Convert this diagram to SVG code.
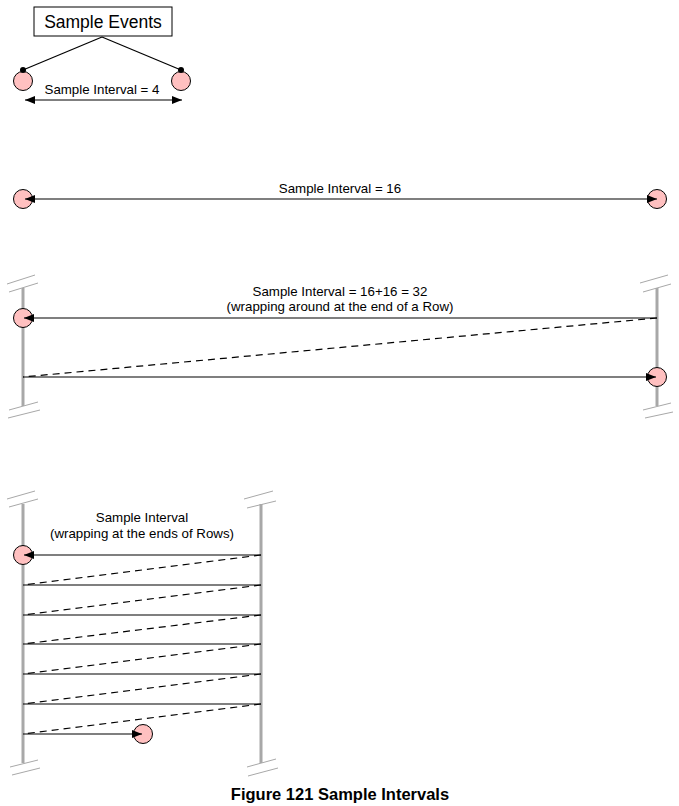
<svg xmlns="http://www.w3.org/2000/svg" width="679" height="806" viewBox="0 0 679 806">
<defs>
<marker id="ah" viewBox="0 0 10 8" refX="10" refY="4" markerWidth="10" markerHeight="8" markerUnits="userSpaceOnUse" orient="auto-start-reverse">
<path d="M0,0 L10,4 L0,8 Z" fill="#000"/>
</marker>
</defs>
<style>
text{font-family:"Liberation Sans",Arial,sans-serif;fill:#000;font-size:13.3px;text-anchor:middle}
.ev{fill:#ffc0c0;stroke:#000;stroke-width:1}
.bar{stroke:#a8a8a8;stroke-width:3;fill:none}
.brk{stroke:#a8a8a8;stroke-width:1;fill:none}
.ln{stroke:#000;stroke-width:1.2;fill:none}
.ds{stroke:#000;stroke-width:1.2;fill:none;stroke-dasharray:7,5}
.arr{marker-end:url(#ah)}
</style>
<rect width="679" height="806" fill="#fff"/>

<g id="bars">
<line class="bar" x1="23" y1="288" x2="23" y2="406"/>
<line class="bar" x1="657" y1="288" x2="657" y2="406"/>
<line class="bar" x1="23" y1="504" x2="23" y2="763"/>
<line class="bar" x1="261" y1="504" x2="261" y2="763"/>
<path class="brk" d="M7,284 L35,275 M9,292 L38,283 M9,410 L38,402 M8,418 L40,410"/>
<path class="brk" d="M640,283 L668,275 M643,292 L671,284 M643,410 L671,403 M645,418 L673,412"/>
<path class="brk" d="M7,499 L35,491 M9,507 L38,499 M10,767 L38,760 M12,775 L40,768"/>
<path class="brk" d="M244,499 L273,491 M247,508 L276,501 M247,767 L276,759 M248,776 L278,768"/>
</g>

<g id="sample-events">
<rect x="34" y="7" width="138" height="29" fill="#fff" stroke="#000" stroke-width="1"/>
<text x="103" y="28" style="font-size:17.5px">Sample Events</text>
</g>

<g id="ev1a"><circle class="ev" cx="23" cy="81" r="9.5"/></g>
<g id="ev1b"><circle class="ev" cx="181" cy="81" r="9.5"/></g>
<g id="ev2a"><circle class="ev" cx="23" cy="199" r="9.5"/></g>
<g id="ev2b"><circle class="ev" cx="657" cy="199" r="9.5"/></g>
<g id="ev3a"><circle class="ev" cx="23" cy="318" r="9.5"/></g>
<g id="ev3b"><circle class="ev" cx="657" cy="377" r="9.5"/></g>
<g id="ev4a"><circle class="ev" cx="23" cy="555" r="9.5"/></g>
<g id="ev4b"><circle class="ev" cx="143" cy="734" r="9.5"/></g>

<g id="connectors">
<line class="ln" x1="102" y1="37" x2="23" y2="70"/>
<line class="ln" x1="102" y1="37" x2="181" y2="70"/>
<circle cx="23" cy="70" r="3" fill="#000"/>
<circle cx="181" cy="70" r="3" fill="#000"/>
<line class="ln arr" x1="25" y1="100" x2="182" y2="100" style="marker-start:url(#ah)"/>

<line class="ln arr" x1="25" y1="199" x2="657" y2="199" style="marker-start:url(#ah)"/>

<line class="ln arr" x1="657" y1="318" x2="24" y2="318"/>
<line class="ds" x1="657" y1="318" x2="23" y2="377"/>
<line class="ln arr" x1="23" y1="377" x2="656" y2="377"/>

<line class="ln arr" x1="261" y1="555" x2="24" y2="555"/>
<line class="ds" x1="261" y1="555" x2="23" y2="585"/>
<line class="ln" x1="23" y1="585" x2="261" y2="585"/>
<line class="ds" x1="261" y1="585" x2="23" y2="615"/>
<line class="ln" x1="23" y1="615" x2="261" y2="615"/>
<line class="ds" x1="261" y1="615" x2="23" y2="644"/>
<line class="ln" x1="23" y1="644" x2="261" y2="644"/>
<line class="ds" x1="261" y1="644" x2="23" y2="674"/>
<line class="ln" x1="23" y1="674" x2="261" y2="674"/>
<line class="ds" x1="261" y1="674" x2="23" y2="704"/>
<line class="ln" x1="23" y1="704" x2="261" y2="704"/>
<line class="ds" x1="261" y1="704" x2="23" y2="734"/>
<line class="ln arr" x1="23" y1="734" x2="142" y2="734"/>
</g>

<g id="labels">
<text x="102" y="94">Sample Interval = 4</text>
<text x="340" y="193">Sample Interval = 16</text>
<text x="340" y="296">Sample Interval = 16+16 = 32</text>
<text x="340" y="311">(wrapping around at the end of a Row)</text>
<text x="142" y="522">Sample Interval</text>
<text x="142" y="538">(wrapping at the ends of Rows)</text>
<text x="340" y="800" style="font-size:16.5px;font-weight:bold">Figure 121 Sample Intervals</text>
</g>
</svg>
